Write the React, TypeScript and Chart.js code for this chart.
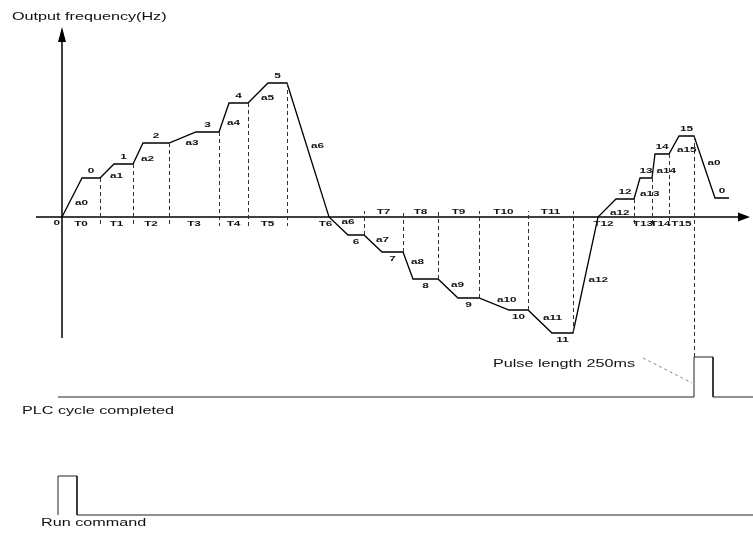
import React, { useEffect, useRef } from 'react';
import { Chart, registerables } from 'chart.js';

Chart.register(...registerables);

// Output frequency trace: time (arbitrary units) and frequency (arbitrary units)
const outputTime = [0, 20, 38, 52, 71, 81, 107, 134, 157, 167, 186, 206, 225, 267, 286, 302, 320, 341, 351, 376, 396, 417, 447, 466, 490, 511, 536, 554, 572, 578, 590, 593, 607, 617, 632, 653, 667];
const outputFreq = [0, 39, 39, 53, 53, 74, 74, 85, 85, 114, 114, 134, 134, 0, -18, -18, -35, -35, -62, -62, -81, -81, -93, -93, -116, -116, 0, 18, 18, 39, 39, 63, 63, 81, 81, 19, 19];

// Labels
const plateauLabels = ['0', '1', '2', '3', '4', '5', '6', '7', '8', '9', '10', '11', '12', '13', '14', '15', '0'];
const rampLabels = ['a0', 'a1', 'a2', 'a3', 'a4', 'a5', 'a6', 'a6', 'a7', 'a8', 'a9', 'a10', 'a11', 'a12', 'a12', 'a13', 'a14', 'a15', 'a0'];
const periodLabels = ['T0', 'T1', 'T2', 'T3', 'T4', 'T5', 'T6', 'T7', 'T8', 'T9', 'T10', 'T11', 'T12', 'T13', 'T14', 'T15'];

// Digital signals
const plcTime = [-4, 632, 632, 651, 651, 691];
const plcLevel = [-180, -180, -140, -140, -180, -180];
const runTime = [-4, -4, 15, 15, 691];
const runLevel = [-298, -259, -259, -298, -298];

// Axis extents
const axisTime = [-26, 688];
const axisFreq = [-121, 190];

const titleText = 'Output frequency(Hz)';
const pulseText = 'Pulse length 250ms';
const plcText = 'PLC cycle completed';
const runText = 'Run command';

const SX = 1.47;
const BIG_FONT = '11px "Liberation Sans", Arial, sans-serif';
const SMALL_FONT = 'bold 8px "Liberation Sans", Arial, sans-serif';

function drawText(ctx: CanvasRenderingContext2D, text: string, x: number, y: number, font: string, align: CanvasTextAlign) {
  ctx.save();
  ctx.font = font;
  ctx.textBaseline = 'middle';
  ctx.textAlign = align;
  ctx.fillStyle = '#111';
  ctx.translate(x, y);
  ctx.scale(SX, 1);
  ctx.fillText(text, 0, 0);
  ctx.restore();
}

const diagramPlugin = {
  id: 'diagram',
  afterDatasetsDraw(chart: any) {
    const ctx: CanvasRenderingContext2D = chart.ctx;
    const xs = chart.scales.x;
    const ys = chart.scales.y;
    const px = (t: number) => xs.getPixelForValue(t);
    const py = (f: number) => ys.getPixelForValue(f);
    const x0 = px(0);
    const y0 = py(0);

    ctx.save();
    // Axes
    ctx.strokeStyle = '#000';
    ctx.fillStyle = '#000';
    ctx.lineWidth = 1.5;
    ctx.beginPath();
    ctx.moveTo(px(axisTime[0]), y0);
    ctx.lineTo(px(axisTime[1]) - 10, y0);
    ctx.moveTo(x0, py(axisFreq[0]));
    ctx.lineTo(x0, py(axisFreq[1]) + 12);
    ctx.stroke();
    // arrow heads
    const xt = px(axisTime[1]);
    ctx.beginPath();
    ctx.moveTo(xt, y0);
    ctx.lineTo(xt - 12, y0 - 4.5);
    ctx.lineTo(xt - 12, y0 + 4.5);
    ctx.closePath();
    ctx.fill();
    const yt = py(axisFreq[1]);
    ctx.beginPath();
    ctx.moveTo(x0, yt);
    ctx.lineTo(x0 - 4, yt + 15);
    ctx.lineTo(x0 + 4, yt + 15);
    ctx.closePath();
    ctx.fill();

    // Find plateaus and ramps
    const plateaus: { t0: number; t1: number; f: number }[] = [];
    const ramps: { t0: number; t1: number; f0: number; f1: number }[] = [];
    for (let i = 0; i < outputTime.length - 1; i++) {
      if (outputFreq[i] === outputFreq[i + 1]) {
        plateaus.push({ t0: outputTime[i], t1: outputTime[i + 1], f: outputFreq[i] });
      } else {
        ramps.push({ t0: outputTime[i], t1: outputTime[i + 1], f0: outputFreq[i], f1: outputFreq[i + 1] });
      }
    }

    // Dashed period boundaries
    ctx.strokeStyle = '#333';
    ctx.lineWidth = 1;
    ctx.setLineDash([4, 3]);
    const nPeriods = periodLabels.length;
    for (let k = 0; k < nPeriods; k++) {
      const p = plateaus[k];
      const x = Math.round(px(p.t1)) + 0.5;
      let fEnd: number;
      if (k === nPeriods - 1) fEnd = plcLevel[2];
      else if (p.f > 0) fEnd = -9;
      else fEnd = 6;
      ctx.beginPath();
      ctx.moveTo(x, py(p.f));
      ctx.lineTo(x, py(fEnd));
      ctx.stroke();
    }
    // Leader line for pulse annotation
    ctx.strokeStyle = '#666';
    ctx.lineWidth = 0.8;
    ctx.setLineDash([3, 3]);
    ctx.beginPath();
    ctx.moveTo(643, 358);
    ctx.lineTo(px(plcTime[1]) - 2, 383);
    ctx.stroke();
    ctx.setLineDash([]);
    ctx.restore();

    // Plateau labels
    plateaus.forEach((p, i) => {
      const label = plateauLabels[i];
      if (label === undefined) return;
      const cx = (px(p.t0) + px(p.t1)) / 2;
      const cy = py(p.f) + (p.f > 0 ? -7 : 7);
      drawText(ctx, label, cx, cy, SMALL_FONT, 'center');
    });

    // Ramp labels
    ramps.forEach((r, i) => {
      const label = rampLabels[i];
      if (label === undefined) return;
      const mx = (px(r.t0) + px(r.t1)) / 2;
      const my = (py(r.f0) + py(r.f1)) / 2;
      const rising = r.f1 > r.f0;
      drawText(ctx, label, mx + 3, my + (rising ? 5 : -4), SMALL_FONT, 'left');
    });

    // Period labels
    for (let k = 0; k < nPeriods; k++) {
      const start = k === 0 ? 0 : plateaus[k - 1].t1;
      const end = plateaus[k].t1;
      const above = plateaus[k].f < 0 && k > 0 && plateaus[k - 1].f < 0;
      const cx = (px(start) + px(end)) / 2;
      const cy = above ? y0 - 5 : y0 + 7;
      drawText(ctx, periodLabels[k], cx, cy, SMALL_FONT, 'center');
    }
    // Origin label
    drawText(ctx, '0', x0 - 2, y0 + 6, SMALL_FONT, 'right');

    // Titles
    drawText(ctx, titleText, 12, 17, BIG_FONT, 'left');
    drawText(ctx, pulseText, 493, 364, BIG_FONT, 'left');
    drawText(ctx, plcText, 22, 411, BIG_FONT, 'left');
    drawText(ctx, runText, 41, 523, BIG_FONT, 'left');
  },
};

export default function App() {
  const canvasRef = useRef<HTMLCanvasElement | null>(null);

  useEffect(() => {
    const canvas = canvasRef.current;
    if (!canvas) return;
    const toPts = (xs: number[], ys: number[]) => xs.map((x, i) => ({ x, y: ys[i] }));
    const chart = new Chart(canvas, {
      type: 'line',
      data: {
        datasets: [
          {
            label: 'Output frequency',
            data: toPts(outputTime, outputFreq),
            borderColor: '#000',
            borderWidth: 1.3,
            pointRadius: 0,
            tension: 0,
            fill: false,
            borderJoinStyle: 'miter',
          },
          {
            label: 'PLC cycle completed',
            data: toPts(plcTime, plcLevel),
            borderColor: '#222',
            borderWidth: 1,
            pointRadius: 0,
            tension: 0,
            fill: false,
          },
          {
            label: 'Run command',
            data: toPts(runTime, runLevel),
            borderColor: '#222',
            borderWidth: 1,
            pointRadius: 0,
            tension: 0,
            fill: false,
          },
        ],
      },
      options: {
        responsive: false,
        maintainAspectRatio: false,
        animation: false,
        events: [],
        layout: { padding: 0 },
        plugins: {
          legend: { display: false },
          tooltip: { enabled: false },
        },
        scales: {
          x: { type: 'linear', display: false, min: -62, max: 691 },
          y: { type: 'linear', display: false, min: -317, max: 217 },
        },
      },
      plugins: [diagramPlugin],
    } as any);
    return () => chart.destroy();
  }, []);

  return (
    <div style={{ position: 'fixed', left: 0, top: 0, width: 753, height: 534, background: '#fff' }}>
      <canvas ref={canvasRef} width={753} height={534} style={{ display: 'block', width: 753, height: 534 }} />
    </div>
  );
}
